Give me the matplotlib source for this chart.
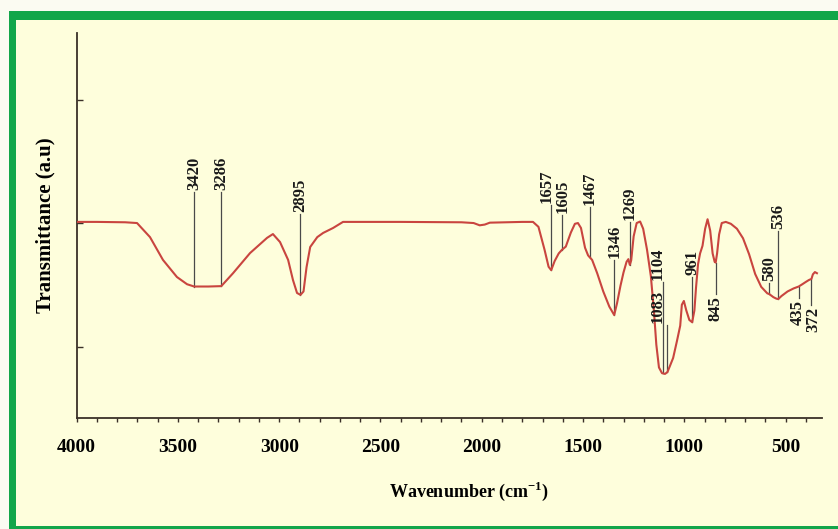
import numpy as np
import matplotlib
matplotlib.use('Agg')
import matplotlib.pyplot as plt
from matplotlib.patches import Rectangle
from matplotlib.ticker import MultipleLocator

plt.rcParams['font.family'] = ['Liberation Serif', 'DejaVu Serif']
plt.rcParams['font.weight'] = 'bold'
plt.rcParams['mathtext.fontset'] = 'custom'
plt.rcParams['mathtext.rm'] = 'Liberation Serif:bold'
plt.rcParams['mathtext.bf'] = 'Liberation Serif:bold'

# FTIR spectrum (wavenumber cm-1, transmittance a.u.)
wavenumber = [3995, 3900, 3760, 3702, 3638, 3574, 3505, 3455, 3420, 3350, 3286, 3228,
              3144, 3060, 3031, 2996, 2956, 2932, 2912, 2895, 2880, 2865, 2847, 2812,
              2783, 2734, 2685, 2400, 2100, 2040, 2010, 1985, 1960, 1800, 1747, 1720,
              1690, 1670, 1657, 1640, 1620, 1605, 1585, 1560, 1540, 1525, 1510, 1490,
              1475, 1467, 1455, 1430, 1400, 1370, 1346, 1332, 1315, 1300, 1285, 1276,
              1269, 1262, 1250, 1235, 1218, 1203, 1184, 1165, 1150, 1138, 1125, 1110,
              1095, 1083, 1070, 1055, 1036, 1020, 1012, 1002, 990, 975, 961, 950,
              942, 932, 922, 910, 897, 885, 872, 860, 850, 845, 838, 828,
              815, 795, 770, 740, 710, 680, 650, 620, 590, 580, 560, 545,
              536, 520, 490, 460, 435, 420, 400, 385, 372, 365, 355, 345]
transmittance = [50.3, 50.3, 50.2, 50.0, 46.3, 40.3, 35.8, 33.9, 33.3, 33.3, 33.4, 36.8,
                 42.1, 46.1, 47.1, 45.0, 40.3, 35.0, 31.6, 31.1, 32.0, 38.4, 43.7, 46.3,
                 47.4, 48.7, 50.3, 50.3, 50.2, 50.0, 49.4, 49.6, 50.1, 50.3, 50.3, 49.0,
                 43.0, 38.5, 37.6, 40.0, 42.0, 42.9, 43.8, 47.5, 49.8, 50.0, 48.7, 43.5,
                 41.5, 41.0, 40.3, 36.8, 32.0, 28.0, 25.8, 28.9, 33.5, 37.0, 39.8, 40.5,
                 39.0, 40.2, 46.5, 50.0, 50.4, 48.5, 43.0, 36.0, 27.0, 18.0, 12.0, 10.5,
                 10.3, 10.8, 12.5, 14.5, 19.0, 23.0, 28.5, 29.5, 27.0, 24.5, 23.9, 27.0,
                 33.0, 39.2, 42.0, 44.0, 48.5, 51.0, 48.0, 42.0, 39.8, 39.6, 42.0, 47.0,
                 50.0, 50.3, 49.8, 48.5, 46.0, 41.8, 36.6, 33.2, 31.5, 31.3, 30.5, 30.1,
                 30.0, 30.8, 32.0, 32.8, 33.3, 33.8, 34.5, 35.0, 35.3, 36.5, 37.1, 36.8]

# labelled bands
peaks = [3420, 3286, 2895, 1657, 1605, 1467, 1346, 1269, 1104, 1083, 961, 845, 580, 536, 435, 372]
# level where each label line ends (a.u.), and whether the label sits below the curve
label_level = [58.2, 58.2, 52.4, 54.7, 52.1, 54.2, 40.3, 50.3, 34.5, 23.2, 35.8, 31.3, 34.2, 47.9, 30.3, 28.4]
below = [False, False, False, False, False, False, False, False, False, False, False, True, False, False, True, True]
text_dx = {1104: -4.3, 1083: -7.2, 1657: -3.0, 1605: 0.5, 435: -1.0, 372: 1.0}

x_major = [4000, 3500, 3000, 2500, 2000, 1500, 1000, 500]

green = '#12a64a'
cream = '#fefedc'
axis_col = '#3a3028'

fig = plt.figure(figsize=(8.38, 5.29), dpi=100)
fig.patch.set_facecolor('#fbfbf2')
fig.patches.append(Rectangle((9 / 838, 0), 1, 518 / 529, transform=fig.transFigure,
                             facecolor=green, edgecolor='none', zorder=-10))
fig.patches.append(Rectangle((16 / 838, 3 / 529), 1, 506 / 529, transform=fig.transFigure,
                             facecolor=cream, edgecolor='none', zorder=-9))

ax = fig.add_axes([0.0915, 0.2098, 0.8894, 0.7278])
ax.set_facecolor('none')

w = np.array(wavenumber)
t = np.array(transmittance)
ax.plot(w, t, color='#c9453f', lw=1.5, zorder=3)

# vertical marker lines + labels
wi = w[::-1]
ti = t[::-1]
for p, lvl, bl in zip(peaks, label_level, below):
    yc = np.interp(p, wi, ti)
    ax.plot([p, p], [yc, lvl], color='#4a4a4a', lw=0.9, zorder=2)
    dx = text_dx.get(p, 0)
    ax.annotate(str(p), xy=(p, lvl), xytext=(dx, -1.5 if bl else 1.5),
                textcoords='offset points', rotation=90, ha='center',
                va='top' if bl else 'bottom', fontsize=12, fontweight='bold',
                color='#1a1a1a')

ax.set_xlim(4000, 320)
ax.set_ylim(-1.3, 100)

for s in ['top', 'right']:
    ax.spines[s].set_visible(False)
for s in ['left', 'bottom']:
    ax.spines[s].set_color(axis_col)
    ax.spines[s].set_linewidth(1.3)

ax.set_xticks(x_major)
ax.set_xticklabels([str(v) for v in x_major])
ax.xaxis.set_minor_locator(MultipleLocator(100))
ax.tick_params(axis='x', which='both', direction='out', length=3, width=1,
               color=axis_col, labelsize=14, pad=12)
ax.set_yticks([17.5, 50, 82.5])
ax.set_yticklabels([])
ax.tick_params(axis='y', direction='in', length=4, width=1, color=axis_col)

ax.set_xlabel(r'Wavenumber (cm$^{-1}$)', fontsize=13, fontweight='bold')
ax.xaxis.set_label_coords(0.526, -0.16)
ax.set_ylabel('Transmittance (a.u)', fontsize=15, fontweight='bold')
ax.yaxis.set_label_coords(-0.028, 0.5)

fig.savefig('out.png', dpi=100, facecolor=fig.get_facecolor())
